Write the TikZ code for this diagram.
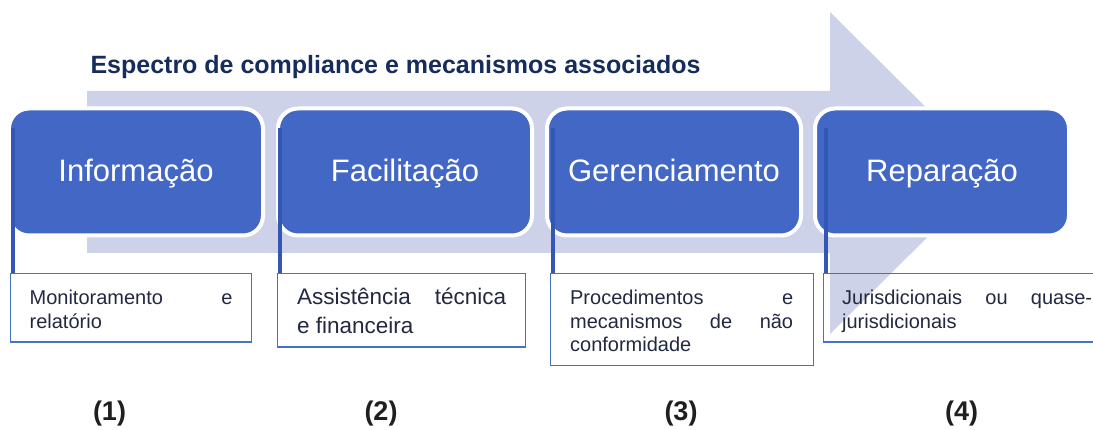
\documentclass[tikz,border=0pt]{standalone}
\usepackage{fontspec}
\setmainfont{Liberation Sans}

\definecolor{band}{RGB}{205,210,232}
\definecolor{stepblue}{RGB}{66,103,197}
\definecolor{accentblue}{RGB}{52,86,180}
\definecolor{frameblue}{RGB}{68,114,196}
\definecolor{titlenavy}{RGB}{22,45,92}
\definecolor{bodytext}{RGB}{34,40,64}

\hyphenpenalty=10000
\hbadness=10000
\newcommand\mtop{\rule{0pt}{23pt}}
\newcommand\mbot{\rule[-6pt]{0pt}{6pt}}

\begin{document}
\begin{tikzpicture}[x=1pt,y=-1pt,
    stage/.style={draw=white,line width=4pt,fill=stepblue,rounded corners=20pt,
      minimum width=254pt,minimum height=127pt,text=white,
      text height=22pt,text depth=2pt,
      font=\fontsize{31}{36}\selectfont},
    mech/.style={draw=frameblue,line width=1.3pt,anchor=north west,
      align=justify,inner ysep=8pt,text=bodytext,
      font=\fontsize{20}{23.5}\selectfont},
    tick/.style={draw=accentblue,line width=4pt},
    num/.style={text=black!88,font=\fontsize{27}{30}\selectfont\bfseries}]
\useasboundingbox (0,0) rectangle (1093,430);

% the big arrow behind everything
\fill[band]
      ( 87, 91) -- (830, 91) -- (830, 12) -- (992,173)
   -- (830,334) -- (830,253) -- ( 87,253) -- cycle;

\node [anchor=base west,text=titlenavy,font=\fontsize{25}{30}\selectfont\bfseries]
    (title) at (87,74) {Espectro de compliance e mecanismos associados};

% the four stages
\node [stage] (info)  at (136,172) {Informação};
\node [stage] (facil) at (405,172) {Facilitação};
\node [stage] (gere)  at (674,172) {Gerenciamento};
\node [stage] (repa)  at (942,172) {Reparação};

% what goes with each stage
\node [mech,text width=203pt,inner xsep=19pt] (infotxt) at (10,273)
    {\mtop Monitoramento e\linebreak relatório\mbot};
\node [mech,text width=209pt,inner xsep=19.5pt,font=\fontsize{22.5}{28.5}\selectfont]
    (faciltxt) at (277,273)
    {\mtop Assistência técnica\linebreak e financeira\mbot};
\node [mech,text width=223pt,inner xsep=20pt] (geretxt) at (549.5,273)
    {\mtop Procedimentos e\linebreak mecanismos de não\linebreak conformidade\mbot};
\node [mech,text width=250pt,inner xsep=18.5pt] (repatxt) at (823,273)
    {\mtop Jurisdicionais ou quase-\linebreak jurisdicionais\mbot};

\draw[tick] ([xshift=3pt]infotxt.north west)  -- ([xshift=3pt,yshift=145pt]infotxt.north west);
\draw[tick] ([xshift=3pt]faciltxt.north west) -- ([xshift=3pt,yshift=145pt]faciltxt.north west);
\draw[tick] ([xshift=3pt]geretxt.north west)  -- ([xshift=3pt,yshift=145pt]geretxt.north west);
\draw[tick] ([xshift=3pt]repatxt.north west)  -- ([xshift=3pt,yshift=145pt]repatxt.north west);

\path
    (109.5,414) node [num] (n1) {(1)}
    (381  ,414) node [num] (n2) {(2)}
    (681  ,414) node [num] (n3) {(3)}
    (961.5,414) node [num] (n4) {(4)};
\end{tikzpicture}
\end{document}
